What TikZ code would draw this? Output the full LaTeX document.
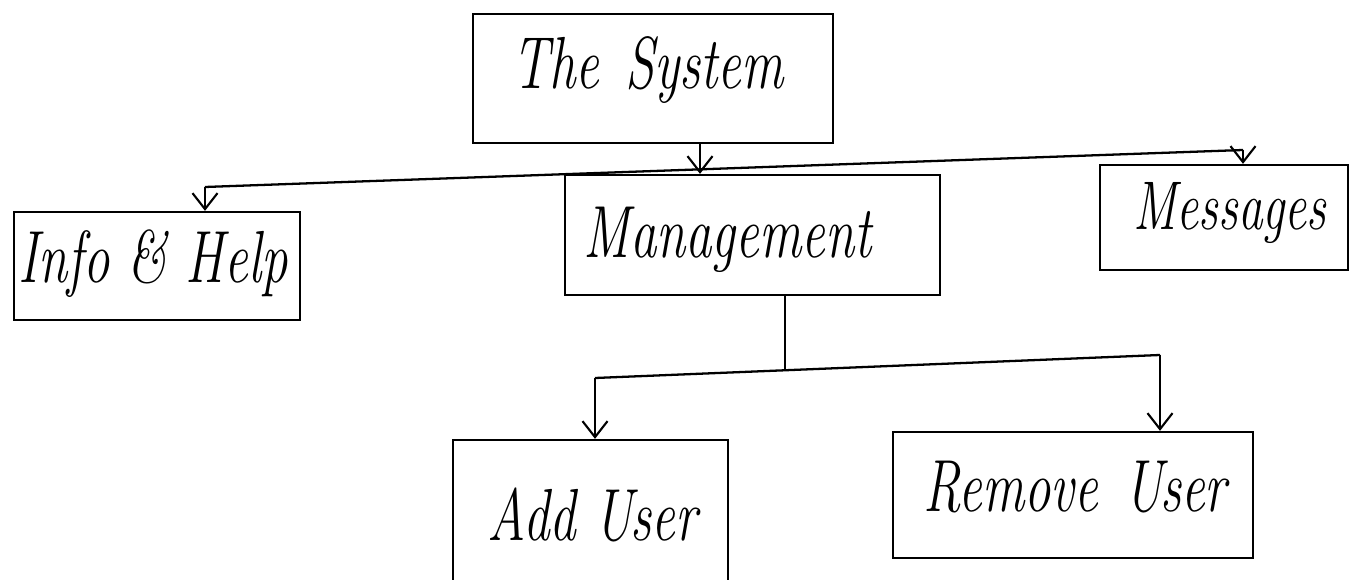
\documentclass[tikz,border=0pt]{standalone}
\usepackage{graphicx}
\usetikzlibrary{arrows.meta,fit}
% tall italic lettering for the box captions
\newcommand{\hw}[1]{\scalebox{1}[1.4]{#1}}
\begin{document}
\begin{tikzpicture}[x=0.2mm,y=-0.2mm,
  line width=1.3pt,
  box/.style={draw=black,line width=1.3pt,inner sep=0pt},
  caption/.style={inner sep=0pt,font=\fontsize{30}{34}\selectfont\itshape},
  arr/.style={-{Straight Barb[length=3.2mm,width=5mm,line width=1.2pt]}}]
\useasboundingbox (0,0) rectangle (1359,580);

% boxes
\node[box,fit={(473,14) (833,143)}] (sys) {};
\node[box,fit={(14,212) (300,320)}] (info) {};
\node[box,fit={(565,175) (940,295)}] (mgmt) {};
\node[box,fit={(1100,165) (1348,270)}] (msg) {};
\node[box,fit={(453,440) (728,590)}] (add) {};
\node[box,fit={(893,432) (1253,558)}] (rem) {};

% captions
\node[caption] (sysT) at ([shift={(-5,-8)}]sys.center) {\hw{The\enspace System}};
\node[caption] (infoT) at ([shift={(-4,-2)}]info.center) {\hw{Info \& Help}};
\node[caption] (mgmtT) at ([shift={(-25,5)}]mgmt.center) {\hw{Management}};
\node[caption,font=\fontsize{28}{32}\selectfont\itshape] (msgT) at ([shift={(6,-4)}]msg.center) {\hw{Messages}};
\node[caption] (addT) at ([shift={(2,0)}]add.center) {\hw{Add User}};
\node[caption] (remT) at ([shift={(2,-8)}]rem.center) {\hw{Remove\enspace User}};

% first level branching bar
\coordinate (b1l) at (205,187);
\coordinate (b1r) at (1243,150);
\coordinate (b1m) at (700,0);
\draw (b1l) -- (b1r);
\draw[arr] (b1l) -- (b1l |- info.north);
\draw[arr] (b1r) -- (b1r |- msg.north);
\draw[arr] (b1m |- sys.south) -- (b1m |- mgmt.north);

% second level branching bar
\coordinate (b2l) at (595,378);
\coordinate (b2r) at (1160,355);
\coordinate (b2m) at (785,370);
\draw (b2l) -- (b2r);
\draw (b2m |- mgmt.south) -- (b2m);
\draw[arr] (b2l) -- (b2l |- add.north);
\draw[arr] (b2r) -- (b2r |- rem.north);
\end{tikzpicture}
\end{document}
